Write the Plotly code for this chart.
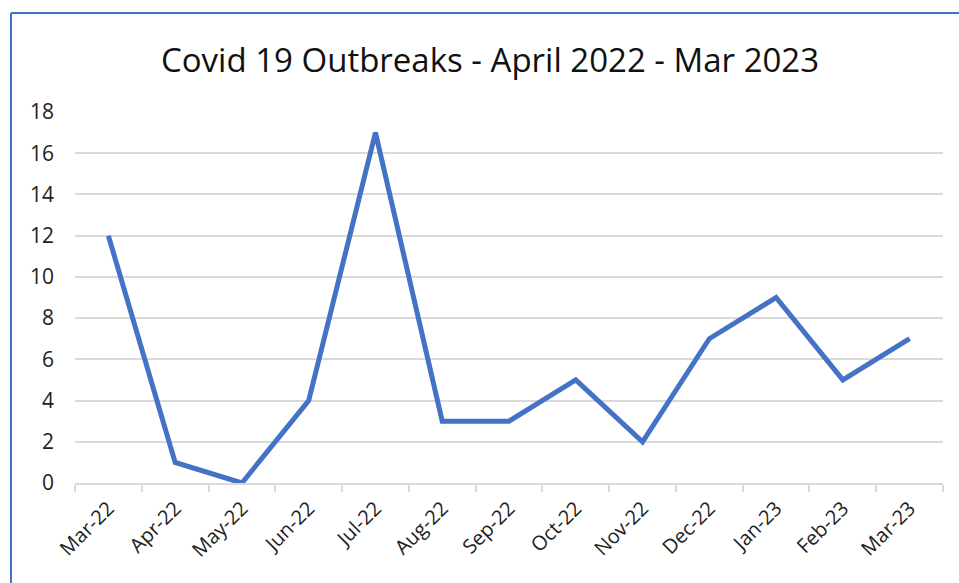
import plotly.graph_objects as go

# Monthly Covid 19 outbreak counts
months = ["Mar-22", "Apr-22", "May-22", "Jun-22", "Jul-22", "Aug-22", "Sep-22",
          "Oct-22", "Nov-22", "Dec-22", "Jan-23", "Feb-23", "Mar-23"]
outbreaks = [12, 1, 0, 4, 17, 3, 3, 5, 2, 7, 9, 5, 7]
y_ticks = [0, 2, 4, 6, 8, 10, 12, 14, 16, 18]

W, H = 959, 583
L, R, T, B = 75, 16, 112, 100

fig = go.Figure()
fig.add_trace(go.Scatter(
    x=months, y=outbreaks, mode="lines",
    line=dict(color="#4472C4", width=5),
    hoverinfo="x+y",
))

# frame line along the top and left edges
px = lambda v: (v - L) / (W - L - R)
py = lambda v: 1 - (v - T) / (H - T - B)
frame = dict(color="#4472C4", width=2)
fig.add_shape(type="line", xref="paper", yref="paper",
              x0=px(11), x1=px(962), y0=py(13), y1=py(13), line=frame)
fig.add_shape(type="line", xref="paper", yref="paper",
              x0=px(11), x1=px(11), y0=py(13), y1=py(590), line=frame)

fig.update_layout(
    width=W, height=H,
    margin=dict(l=L, r=R, t=T, b=B),
    paper_bgcolor="white", plot_bgcolor="white",
    showlegend=False,
    title=dict(text="Covid 19 Outbreaks - April 2022 - Mar 2023",
               x=0.511, xanchor="center", y=0.897, yanchor="middle",
               font=dict(family="Open Sans", size=33, color="#111111")),
    font=dict(family="Open Sans", color="#333333"),
)
fig.update_xaxes(
    type="category", range=[-0.5, len(months) - 0.5],
    showgrid=False, showline=True, linecolor="#D9D9D9", linewidth=1.5,
    ticks="outside", tickson="boundaries", ticklen=7, tickcolor="#D9D9D9",
    tickwidth=1.5, tickangle=-45, ticklabelstandoff=4,
    tickfont=dict(size=20, color="#222222"),
)
fig.update_yaxes(
    range=[0, 18], tickvals=y_ticks, showgrid=True, gridcolor="#D9D9D9",
    gridwidth=1.5, zeroline=False, showline=False,
    ticks="", ticklabelstandoff=20, tickfont=dict(size=21, color="#222222"),
)

fig.write_html("out.html")
